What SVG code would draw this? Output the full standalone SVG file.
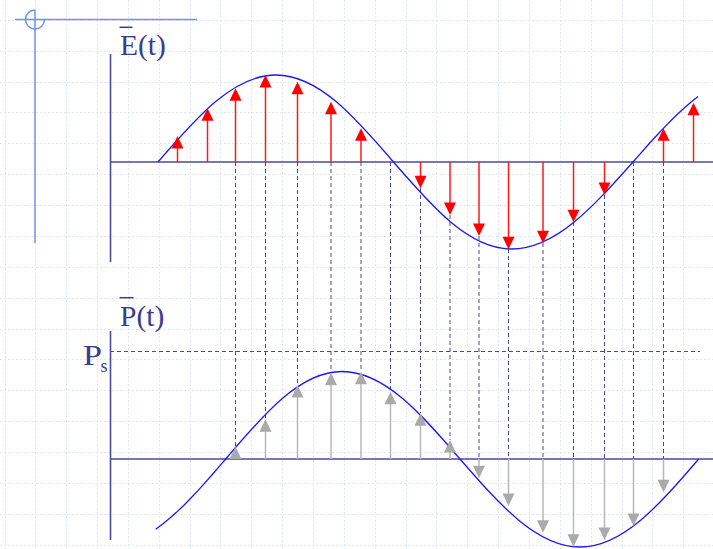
<svg xmlns="http://www.w3.org/2000/svg" width="713" height="549" viewBox="0 0 713 549">
<style>
.grid line{stroke:#dfe6f9;stroke-width:1;stroke-dasharray:2 2}
.deco{stroke:#7090ee;stroke-width:1.5;fill:none}
.axis{stroke:#4a4a98;stroke-width:1.6;fill:none}
.curve{stroke:#1a1aee;stroke-width:1.3;fill:none}
.dash{stroke:#4a4a8c;stroke-width:1;stroke-dasharray:4 3}
.rshaft{stroke:#ff1a1a;stroke-width:1.5}
.rhead{fill:#ff0000}
.gshaft{stroke:#b8b8b8;stroke-width:1.5}
.ghead{fill:#aaaaaa}
.lbl{font-family:"Liberation Serif","Times New Roman",serif;fill:#3c3c8e}
.bar{stroke:#3c3c8e;stroke-width:1.5}
</style>
<rect width="713" height="549" fill="#ffffff"/>
<g class="grid">
<line x1="5.5" y1="0" x2="5.5" y2="549"/><line x1="35.5" y1="0" x2="35.5" y2="549"/><line x1="66.5" y1="0" x2="66.5" y2="549"/><line x1="97.5" y1="0" x2="97.5" y2="549"/><line x1="128.5" y1="0" x2="128.5" y2="549"/><line x1="159.5" y1="0" x2="159.5" y2="549"/><line x1="190.5" y1="0" x2="190.5" y2="549"/><line x1="220.5" y1="0" x2="220.5" y2="549"/><line x1="251.5" y1="0" x2="251.5" y2="549"/><line x1="282.5" y1="0" x2="282.5" y2="549"/><line x1="313.5" y1="0" x2="313.5" y2="549"/><line x1="344.5" y1="0" x2="344.5" y2="549"/><line x1="375.5" y1="0" x2="375.5" y2="549"/><line x1="406.5" y1="0" x2="406.5" y2="549"/><line x1="436.5" y1="0" x2="436.5" y2="549"/><line x1="467.5" y1="0" x2="467.5" y2="549"/><line x1="498.5" y1="0" x2="498.5" y2="549"/><line x1="529.5" y1="0" x2="529.5" y2="549"/><line x1="560.5" y1="0" x2="560.5" y2="549"/><line x1="591.5" y1="0" x2="591.5" y2="549"/><line x1="622.5" y1="0" x2="622.5" y2="549"/><line x1="652.5" y1="0" x2="652.5" y2="549"/><line x1="683.5" y1="0" x2="683.5" y2="549"/>
<line x1="0" y1="20.5" x2="713" y2="20.5"/><line x1="0" y1="51.5" x2="713" y2="51.5"/><line x1="0" y1="82.5" x2="713" y2="82.5"/><line x1="0" y1="112.5" x2="713" y2="112.5"/><line x1="0" y1="143.5" x2="713" y2="143.5"/><line x1="0" y1="174.5" x2="713" y2="174.5"/><line x1="0" y1="205.5" x2="713" y2="205.5"/><line x1="0" y1="236.5" x2="713" y2="236.5"/><line x1="0" y1="267.5" x2="713" y2="267.5"/><line x1="0" y1="298.5" x2="713" y2="298.5"/><line x1="0" y1="329.5" x2="713" y2="329.5"/><line x1="0" y1="359.5" x2="713" y2="359.5"/><line x1="0" y1="390.5" x2="713" y2="390.5"/><line x1="0" y1="421.5" x2="713" y2="421.5"/><line x1="0" y1="452.5" x2="713" y2="452.5"/><line x1="0" y1="483.5" x2="713" y2="483.5"/><line x1="0" y1="514.5" x2="713" y2="514.5"/><line x1="0" y1="545.5" x2="713" y2="545.5"/>
</g>
<g id="decoration">
<line class="deco" x1="15" y1="19.5" x2="197" y2="19.5"/>
<line class="deco" x1="35" y1="10" x2="35" y2="243"/>
<path class="deco" d="M35,10 A9.5,9.5 0 1 0 44.5,19.5"/>
</g>
<g id="connectors">
<line class="dash" x1="235.5" y1="162" x2="235.5" y2="447"/>
<line class="dash" x1="265.5" y1="162" x2="265.5" y2="419"/>
<line class="dash" x1="297.5" y1="162" x2="297.5" y2="385"/>
<line class="dash" x1="331" y1="162" x2="331" y2="373"/>
<line class="dash" x1="361" y1="162" x2="361" y2="372"/>
<line class="dash" x1="390.5" y1="162" x2="390.5" y2="392"/>
<line class="dash" x1="420.5" y1="188" x2="420.5" y2="413"/>
<line class="dash" x1="450" y1="215" x2="450" y2="440"/>
<line class="dash" x1="479" y1="236" x2="479" y2="459"/>
<line class="dash" x1="508.5" y1="249" x2="508.5" y2="459"/>
<line class="dash" x1="543" y1="243" x2="543" y2="459"/>
<line class="dash" x1="573.5" y1="222" x2="573.5" y2="459"/>
<line class="dash" x1="604.5" y1="195" x2="604.5" y2="459"/>
<line class="dash" x1="633.5" y1="162" x2="633.5" y2="459"/>
<line class="dash" x1="663.5" y1="162" x2="663.5" y2="459"/>
<line class="dash" x1="110" y1="351.5" x2="700" y2="351.5"/>
</g>
<g id="E-plot">
<line class="axis" x1="110.5" y1="54" x2="110.5" y2="262"/>
<line class="axis" x1="110" y1="162" x2="713" y2="162"/>
<path class="curve" d="M158,162 C196.48,117.43 233.3,75 276,75 C318.52,75 355.18,117.43 393.5,162 C431.98,206.57 468.8,249 511.5,249 C555.47,249 593.38,206.57 633,162 L639.5,154.61 646,147.26 652.5,140.03 659,132.96 665.5,126.1 672,119.49 678.5,113.19 685,107.25 691.5,101.7 698,96.59"/>
<g id="E-arrows">
<line class="rshaft" x1="177.5" y1="162" x2="177.5" y2="147"/><polygon class="rhead" points="171.5,148.5 177.5,136 183.5,148.5"/>
<line class="rshaft" x1="207.5" y1="162" x2="207.5" y2="120"/><polygon class="rhead" points="201.5,120.8 207.5,108.3 213.5,120.8"/>
<line class="rshaft" x1="235.5" y1="162" x2="235.5" y2="100"/><polygon class="rhead" points="229.5,100.8 235.5,88.3 241.5,100.8"/>
<line class="rshaft" x1="265.5" y1="162" x2="265.5" y2="86"/><polygon class="rhead" points="259.5,87.5 265.5,75 271.5,87.5"/>
<line class="rshaft" x1="297.5" y1="162" x2="297.5" y2="93"/><polygon class="rhead" points="291.5,94.2 297.5,81.7 303.5,94.2"/>
<line class="rshaft" x1="331" y1="162" x2="331" y2="113"/><polygon class="rhead" points="325,114.2 331,101.7 337,114.2"/>
<line class="rshaft" x1="361" y1="162" x2="361" y2="140"/><polygon class="rhead" points="355,140.8 361,128.3 367,140.8"/>
<line class="rshaft" x1="420.5" y1="162" x2="420.5" y2="177"/><polygon class="rhead" points="414.5,175.8 420.5,188.3 426.5,175.8"/>
<line class="rshaft" x1="450" y1="162" x2="450" y2="204"/><polygon class="rhead" points="444,202.5 450,215 456,202.5"/>
<line class="rshaft" x1="479" y1="162" x2="479" y2="225"/><polygon class="rhead" points="473,223.5 479,236 485,223.5"/>
<line class="rshaft" x1="508.5" y1="162" x2="508.5" y2="238"/><polygon class="rhead" points="502.5,236.8 508.5,249.3 514.5,236.8"/>
<line class="rshaft" x1="543" y1="162" x2="543" y2="232"/><polygon class="rhead" points="537,230.8 543,243.3 549,230.8"/>
<line class="rshaft" x1="573.5" y1="162" x2="573.5" y2="211"/><polygon class="rhead" points="567.5,209.8 573.5,222.3 579.5,209.8"/>
<line class="rshaft" x1="604.5" y1="162" x2="604.5" y2="184"/><polygon class="rhead" points="598.5,182.5 604.5,195 610.5,182.5"/>
<line class="rshaft" x1="663.5" y1="162" x2="663.5" y2="140"/><polygon class="rhead" points="657.5,140.8 663.5,128.3 669.5,140.8"/>
<line class="rshaft" x1="693.5" y1="162" x2="693.5" y2="114"/><polygon class="rhead" points="687.5,115.2 693.5,102.7 699.5,115.2"/>
</g>
<g id="E-label">
<text class="lbl" x="120" y="54.5" font-size="29.5">E(t)</text>
<line class="bar" x1="119.5" y1="27.3" x2="132.5" y2="27.3"/>
</g>
</g>
<g id="P-plot">
<line class="axis" x1="110.5" y1="331" x2="110.5" y2="540"/>
<line class="axis" x1="110" y1="459" x2="713" y2="459"/>
<path class="curve" d="M155.7,529.25 L162.7,524.08 169.7,518.34 176.7,512.11 183.7,505.42 190.7,498.31 197.7,490.87 204.7,483.14 211.7,475.21 218.7,467.15 225.7,459 C263.63,414.17 299.91,371.5 342,371.5 C384.7,371.5 421.52,414.17 460,459 C499.13,504.08 536.57,547 580,547 C622.96,547 659.99,504.08 698.7,459"/>
<g id="P-arrows">
<polygon class="ghead" points="229.5,459 235.5,446.7 241.5,459"/>
<line class="gshaft" x1="265.5" y1="459" x2="265.5" y2="431"/><polygon class="ghead" points="259.5,431.8 265.5,419.3 271.5,431.8"/>
<line class="gshaft" x1="297.5" y1="459" x2="297.5" y2="397"/><polygon class="ghead" points="291.5,397.5 297.5,385 303.5,397.5"/>
<line class="gshaft" x1="331" y1="459" x2="331" y2="384"/><polygon class="ghead" points="325,385.2 331,372.7 337,385.2"/>
<line class="gshaft" x1="361" y1="459" x2="361" y2="383"/><polygon class="ghead" points="355,384.2 361,371.7 367,384.2"/>
<line class="gshaft" x1="390.5" y1="459" x2="390.5" y2="403"/><polygon class="ghead" points="384.5,404.2 390.5,391.7 396.5,404.2"/>
<line class="gshaft" x1="420.5" y1="459" x2="420.5" y2="425"/><polygon class="ghead" points="414.5,425.8 420.5,413.3 426.5,425.8"/>
<line class="gshaft" x1="450" y1="459" x2="450" y2="451"/><polygon class="ghead" points="444,452.5 450,440 456,452.5"/>
<line class="gshaft" x1="479" y1="459" x2="479" y2="467"/><polygon class="ghead" points="473,465.8 479,478.3 485,465.8"/>
<line class="gshaft" x1="508.5" y1="459" x2="508.5" y2="495"/><polygon class="ghead" points="502.5,493.5 508.5,506 514.5,493.5"/>
<line class="gshaft" x1="543" y1="459" x2="543" y2="521"/><polygon class="ghead" points="537,520.2 543,532.7 549,520.2"/>
<line class="gshaft" x1="573.5" y1="459" x2="573.5" y2="535"/><polygon class="ghead" points="567.5,534.2 573.5,546.7 579.5,534.2"/>
<line class="gshaft" x1="604.5" y1="459" x2="604.5" y2="528"/><polygon class="ghead" points="598.5,527.5 604.5,540 610.5,527.5"/>
<line class="gshaft" x1="633.5" y1="459" x2="633.5" y2="514"/><polygon class="ghead" points="627.5,513.5 633.5,526 639.5,513.5"/>
<line class="gshaft" x1="663.5" y1="459" x2="663.5" y2="480"/><polygon class="ghead" points="657.5,479.8 663.5,492.3 669.5,479.8"/>
</g>
<g id="P-label">
<text class="lbl" x="120" y="325.5" font-size="29.5">P(t)</text>
<line class="bar" x1="119.5" y1="297.7" x2="133.5" y2="297.7"/>
</g>
<g id="Ps-label">
<text class="lbl" x="83" y="365" font-size="29" textLength="19" lengthAdjust="spacingAndGlyphs">P</text>
<text class="lbl" x="100.5" y="371.7" font-size="18">s</text>
</g>
</g>
</svg>
